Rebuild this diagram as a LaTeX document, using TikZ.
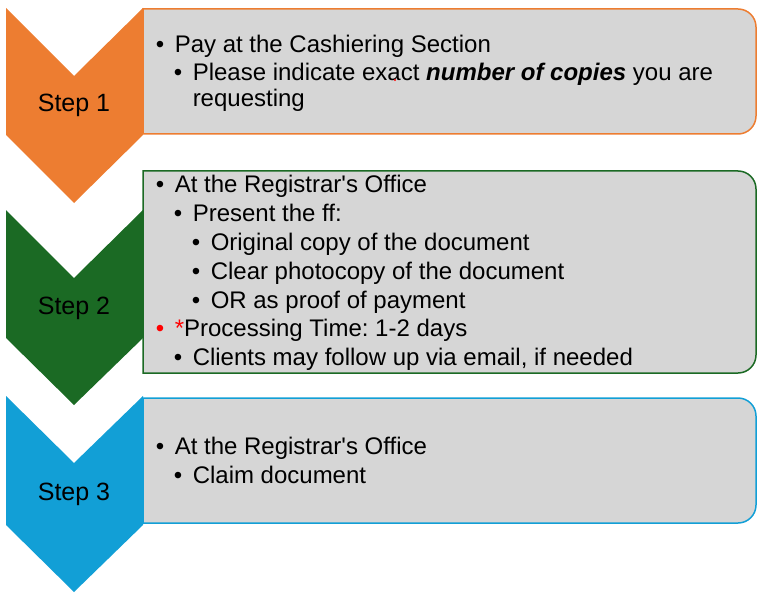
\documentclass[tikz,border=0pt]{standalone}
\usepackage{fontspec}
\setmainfont{Liberation Sans}
\usepackage{tikz}
\frenchspacing
\definecolor{StepOrange}{HTML}{ED7D31}
\definecolor{StepGreen}{HTML}{1B6A24}
\definecolor{StepBlue}{HTML}{129FD6}
\definecolor{BoxGray}{HTML}{D6D6D6}
% bullet line: name, x of text, baseline, text
\newcommand{\bitem}[4]{%
  \node[bul] (#1b) at (#2-14,#3) {\textbullet};
  \node[txt] (#1) at (#2,#3) {#4};}

\begin{document}
\begin{tikzpicture}[x=1pt, y=-1pt, line width=1.5pt,
    every node/.style={inner sep=0pt, font=\fontsize{24}{28}\selectfont},
    txt/.style={anchor=base west}, bul/.style={anchor=base},
    steplabel/.style={font=\fontsize{25}{30}\selectfont}]
		\useasboundingbox (0,0) rectangle (762,596);
		% box 1
		\filldraw[fill=BoxGray, draw=StepOrange] (143,9) [rounded corners=18] -- (756,9) -- (756,134) [sharp corners] -- (143,134) -- cycle;
		% box 2
		\filldraw[fill=BoxGray, draw=StepGreen] (143,171) [rounded corners=18] -- (756,171) -- (756,373) [sharp corners] -- (143,373) -- cycle;
		% box 3
		\filldraw[fill=BoxGray, draw=StepBlue] (143,398) [rounded corners=18] -- (756,398) -- (756,523) [sharp corners] -- (143,523) -- cycle;
		% chevron 1
		\fill[StepOrange] (6,8) -- (74,76) -- (143,8) -- (143,135) -- (74,203) -- (6,135) -- cycle;
		\node[steplabel] (s1) at (74,105) {Step 1};
		% chevron 2
		\fill[StepGreen] (6,210) -- (74,278) -- (143,210) -- (143,338) -- (74,405) -- (6,338) -- cycle;
		\node[steplabel] (s2) at (74,308) {Step 2};
		% chevron 3
		\fill[StepBlue] (6,396) -- (74,463) -- (143,396) -- (143,525) -- (74,592) -- (6,525) -- cycle;
		\node[steplabel] (s3) at (74,494) {Step 3};
		% text 1
		\bitem{a1}{174}{53}{Pay at the Cashiering Section}
		\bitem{a2}{192}{81}{Please indicate exact \textbf{\textit{number of copies}} you are}
		\node[txt] (a3) at (192,107) {requesting};
		\fill[red] (395,80) circle (1.2);
		% text 2
		\bitem{b1}{174}{192}{At the Registrar\textquotesingle s Office}
		\bitem{b2}{192}{221}{Present the ff:}
		\bitem{b3}{210}{250}{Original copy of the document}
		\bitem{b4}{210}{279}{Clear photocopy of the document}
		\bitem{b5}{210}{308}{OR as proof of payment}
		\node[bul, text=red] (b6b) at (160,336) {\textbullet};
		\node[txt] (b6) at (174,336) {\textcolor{red}{*}Processing Time: 1-2 days};
		\bitem{b7}{192}{365}{Clients may follow up via email, if needed}
		% text 3
		\bitem{c1}{174}{454}{At the Registrar\textquotesingle s Office}
		\bitem{c2}{192}{483}{Claim document}
	\end{tikzpicture}
\end{document}
